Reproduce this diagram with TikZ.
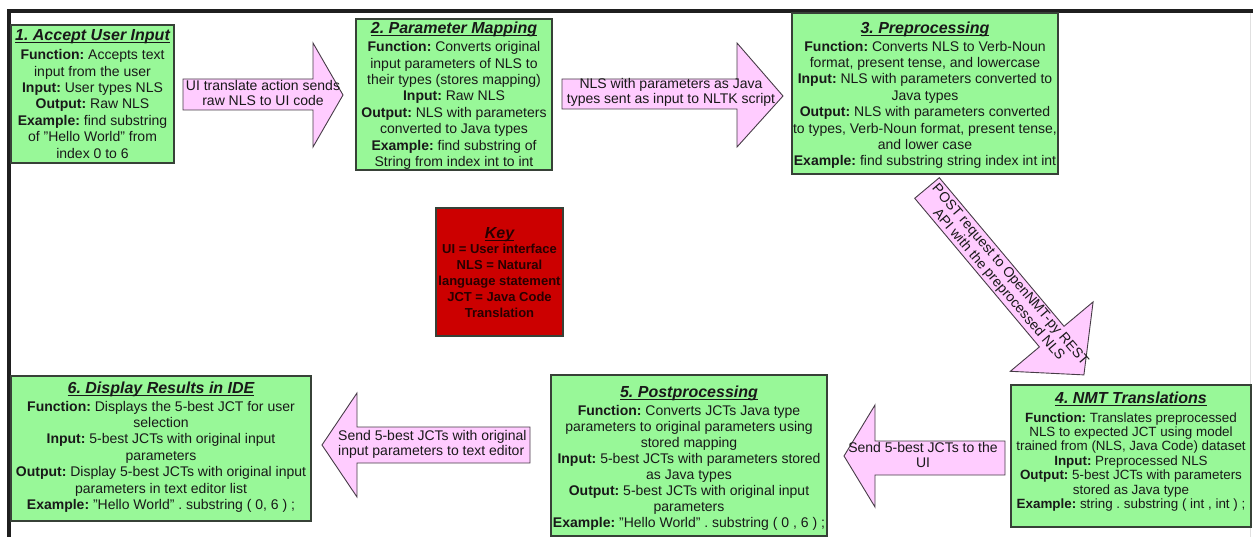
\documentclass[tikz,border=0pt]{standalone}
\usepackage{fontspec}
\setmainfont{Liberation Sans}
\definecolor{boxgreen}{RGB}{152,248,152}
\definecolor{boxedge}{RGB}{55,65,55}
\definecolor{arrowpink}{RGB}{255,204,255}
\definecolor{arrowedge}{RGB}{70,60,70}
\definecolor{keyred}{RGB}{204,0,0}
\definecolor{keytext}{RGB}{40,0,0}
\definecolor{textdark}{RGB}{25,25,25}
\newsavebox\titlebox
\newcommand\stagetitle[1]{{\fontsize{16}{18}\selectfont\bfseries\itshape
  \sbox\titlebox{#1}\usebox\titlebox\llap{\rule[-2.6pt]{\wd\titlebox}{1.3pt}}}}
\frenchspacing
\begin{document}
\begin{tikzpicture}[x=1pt,y=-1pt,
  stage/.style={draw=boxedge, line width=1.4pt, fill=boxgreen, inner sep=0pt},
  stagetext/.style={align=center, inner sep=0pt, anchor=north, text=textdark,
    font=\fontsize{14}{16.4}\selectfont\frenchspacing},
  keybox/.style={draw=boxedge, line width=1.2pt, fill=keyred, inner sep=0pt},
  keytextstyle/.style={align=center, inner sep=0pt, anchor=north, text=keytext,
    font=\fontsize{13}{16}\selectfont\bfseries\frenchspacing},
  barrow/.style={draw=arrowedge, line width=0.9pt, fill=arrowpink, line join=miter},
  arrowlabel/.style={align=center, inner sep=0pt, text=textdark,
    font=\fontsize{14}{15}\selectfont\frenchspacing}]
\useasboundingbox (0,0) rectangle (1253,537);
% frame lines
\fill[black!88] (7,9) rectangle (1253,13);
\fill[black!88] (7,9) rectangle (11,537);
\draw[black!12, line width=1pt] (1250,13) -- (1250,537);

% ---- stage boxes
\node[stage, minimum width=163, minimum height=138] (s1) at (92.5,94) {};
\node[stagetext] (s1t) at (92.5,29) {\stagetitle{1. Accept User Input}\\[3pt]
\textbf{Function:} Accepts text\\ input from the user\\
\textbf{Input:} User types NLS\\ \textbf{Output:} Raw NLS\\
\textbf{Example:} find substring\\ of "Hello World" from\\ index 0 to 6};

\node[stage, minimum width=196, minimum height=151] (s2) at (454,94.5) {};
\node[stagetext] (s2t) at (454,22) {\stagetitle{2. Parameter Mapping}\\[1.5pt]
\textbf{Function:} Converts original\\ input parameters of NLS to\\
their types (stores mapping)\\ \textbf{Input:} Raw NLS\\
\textbf{Output:} NLS with parameters\\ converted to Java types\\
\textbf{Example:} find substring of\\ String from index int to int};

\node[stage, minimum width=266, minimum height=161] (s3) at (925,93.5) {};
\node[stagetext] (s3t) at (925,22) {\stagetitle{3. Preprocessing}\\[1pt]
\textbf{Function:} Converts NLS to Verb-Noun\\ format, present tense, and lowercase\\
\textbf{Input:} NLS with parameters converted to\\ Java types\\
\textbf{Output:} NLS with parameters converted\\ to types, Verb-Noun format, present tense,\\
and lower case\\ \textbf{Example:} find substring string index int int};

\node[stage, minimum width=240, minimum height=142] (s4) at (1131,456) {};
\node[stagetext, font=\fontsize{13.4}{14.4}\selectfont\frenchspacing] (s4t) at (1131,392) {\stagetitle{4. NMT Translations}\\[4pt]
\textbf{Function:} Translates preprocessed\\ NLS to expected JCT using model\\
trained from (NLS, Java Code) dataset\\ \textbf{Input:} Preprocessed NLS\\
\textbf{Output:} 5-best JCTs with parameters\\ stored as Java type\\
\textbf{Example:} string . substring ( int , int ) ;};

\node[stage, minimum width=276, minimum height=161] (s5) at (689,455.5) {};
\node[stagetext, font=\fontsize{14}{16}\selectfont\frenchspacing] (s5t) at (689,386) {\stagetitle{5. Postprocessing}\\[2pt]
\textbf{Function:} Converts JCTs Java type\\ parameters to original parameters using\\
stored mapping\\ \textbf{Input:} 5-best JCTs with parameters stored\\ as Java types\\
\textbf{Output:} 5-best JCTs with original input\\ parameters\\
\textbf{Example:} "Hello World" . substring ( 0 , 6 ) ;};

\node[stage, minimum width=300, minimum height=145] (s6) at (161,448.5) {};
\node[stagetext] (s6t) at (161,382) {\stagetitle{6. Display Results in IDE}\\[1pt]
\textbf{Function:} Displays the 5-best JCT for user\\ selection\\
\textbf{Input:} 5-best JCTs with original input\\ parameters\\
\textbf{Output:} Display 5-best JCTs with original input\\ parameters in text editor list\\
\textbf{Example:} "Hello World" . substring ( 0, 6 ) ;};

% ---- key
\node[keybox, minimum width=127, minimum height=128] (key) at (499.5,272) {};
\node[keytextstyle] (keyt) at (499.5,227) {\stagetitle{Key}\\[-1pt]
UI = User interface\\ NLS = Natural\\ language statement\\ JCT = Java Code\\ Translation};

% ---- block arrows
\draw[barrow] (183,79) -- (313,79) -- (313,43) -- (343,95) -- (313,147) -- (313,110) -- (183,110) -- cycle;
\node[arrowlabel] (a1) at (263,92.5) {UI translate action sends\\ raw NLS to UI code};

\draw[barrow] (562,79) -- (737,79) -- (737,43) -- (783,96) -- (737,147) -- (737,109) -- (562,109) -- cycle;
\node[arrowlabel] (a2) at (671,92.5) {NLS with parameters as Java\\ types sent as input to NLTK script};

\draw[barrow] (914.7,198.3) -- (939.3,177.7) -- (1064,326.3) -- (1093.1,301.9) -- (1083.9,374.9) -- (1010.3,371.3) -- (1039.4,346.9) -- cycle;
\node[arrowlabel, rotate=-49.5] (a3) at (1004,280) {POST request to OpenNMT-py REST\\ API with the preprocessed NLS};

\draw[barrow] (1005,441) -- (875,441) -- (875,405) -- (844,456) -- (875,507) -- (875,475) -- (1005,475) -- cycle;
\node[arrowlabel] (a4) at (923,455) {Send 5-best JCTs to the\\ UI};

\draw[barrow] (530,427) -- (357,427) -- (357,393) -- (322,445) -- (357,497) -- (357,463) -- (530,463) -- cycle;
\node[arrowlabel, align=left, anchor=west] (a5) at (338,444.5) {Send 5-best JCTs with original\\ input parameters to text editor};
\end{tikzpicture}
\end{document}
